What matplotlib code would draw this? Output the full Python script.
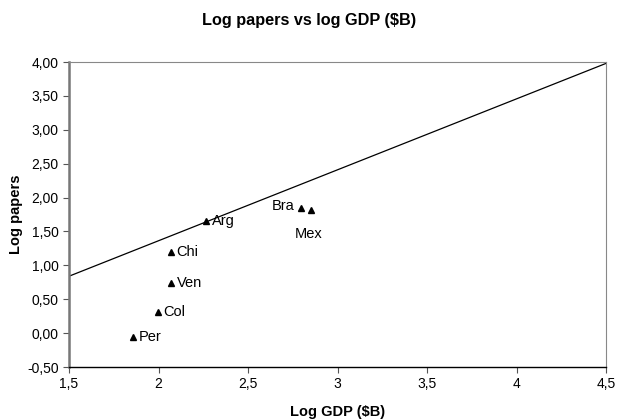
import matplotlib.pyplot as plt
from matplotlib.ticker import FuncFormatter

plt.rcParams['font.family'] = ['Liberation Sans', 'DejaVu Sans']

countries = ['Per', 'Col', 'Ven', 'Chi', 'Arg', 'Bra', 'Mex']
log_gdp = [1.857, 1.997, 2.07, 2.07, 2.265, 2.796, 2.852]
log_papers = [-0.05, 0.31, 0.74, 1.19, 1.66, 1.85, 1.81]

# trend line
slope = 1.047
intercept = 0.84 - 1.5 * slope
line_x = [1.5, 4.5]

fig = plt.figure(figsize=(6.18, 4.19), dpi=100)
ax = fig.add_axes([0.1117, 0.124, 0.8693, 0.728])

ax.plot(line_x, [intercept + slope * v for v in line_x], color='black', lw=0.9)
ax.plot(log_gdp, log_papers, linestyle='none', marker='^', color='black',
        markersize=4)

offsets = {'Bra': (-5, 1, 'right', 'center'), 'Mex': (-2, -17, 'center', 'center')}
for name, x, y in zip(countries, log_gdp, log_papers):
    dx, dy, ha, va = offsets.get(name, (4, 0, 'left', 'center'))
    ax.annotate(name, (x, y), xytext=(dx, dy), textcoords='offset points',
                ha=ha, va=va, fontsize=10.5)

ax.set_xlim(1.5, 4.5)
ax.set_ylim(-0.5, 4.0)
ax.set_xticks([1.5, 2, 2.5, 3, 3.5, 4, 4.5])
ax.set_yticks([-0.5, 0, 0.5, 1, 1.5, 2, 2.5, 3, 3.5, 4])
ax.xaxis.set_major_formatter(FuncFormatter(lambda v, p: ('%g' % v).replace('.', ',')))
ax.yaxis.set_major_formatter(FuncFormatter(lambda v, p: ('%.2f' % v).replace('.', ',')))
ax.tick_params(direction='out', length=4, width=0.8, labelsize=10, colors='#555555',
               labelcolor='black')

for s in ['top', 'right']:
    ax.spines[s].set_color('#888888')
    ax.spines[s].set_linewidth(0.8)
ax.spines['left'].set_color('#777777')
ax.spines['left'].set_linewidth(1.8)
ax.spines['bottom'].set_color('black')
ax.spines['bottom'].set_linewidth(1)

ax.set_xlabel('Log GDP ($B)', fontsize=10.5, fontweight='bold', labelpad=10)
ax.set_ylabel('Log papers', fontsize=10.5, fontweight='bold', labelpad=3)
fig.suptitle('Log papers vs log GDP ($B)', fontsize=11.7, fontweight='bold', y=0.97)

fig.savefig('out.png', dpi=100)
